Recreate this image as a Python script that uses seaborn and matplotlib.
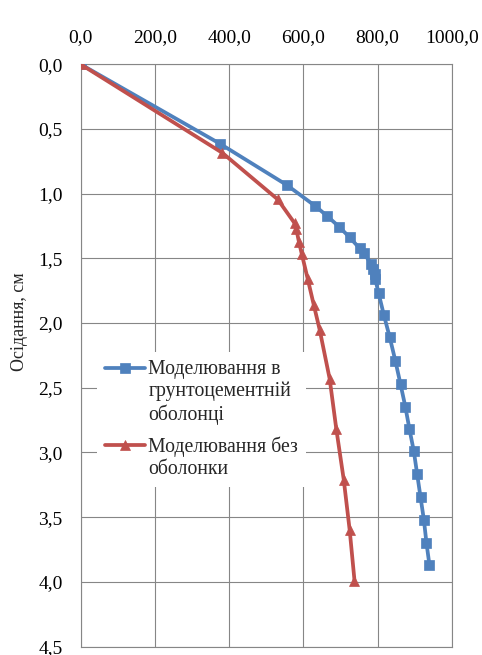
import matplotlib
matplotlib.use("Agg")
import matplotlib.pyplot as plt
from matplotlib.ticker import FuncFormatter, MultipleLocator
import seaborn as sns
import pandas as pd

# ---- data ----
blue_label = "Моделювання в\nгрунтоцементній\nоболонці"
blue_load = [0, 376, 556, 632, 664, 697, 725, 752, 763, 783, 787, 792, 794,
             803, 817, 833, 848, 862, 875, 886, 898, 907, 916, 925, 932, 940]
blue_settle = [0.0, 0.615, 0.934, 1.095, 1.172, 1.257, 1.338, 1.423, 1.462,
               1.54, 1.58, 1.62, 1.66, 1.77, 1.936, 2.11, 2.29, 2.472, 2.646,
               2.818, 2.992, 3.17, 3.346, 3.52, 3.70, 3.87]

red_label = "Моделювання без\nоболонки"
red_load = [0, 382, 531, 577, 581, 588, 596, 612, 628, 644, 671, 689, 709,
            725, 738]
red_settle = [0.0, 0.685, 1.044, 1.23, 1.27, 1.37, 1.467, 1.66, 1.857, 2.05,
              2.43, 2.82, 3.21, 3.60, 3.99]

y_label = "Осідання, см"

# ---- style ----
sns.set_style("white")
plt.rcParams["font.family"] = ["Liberation Serif", "DejaVu Serif"]

BLUE = "#4F81BD"
RED = "#C0504D"
GRID = "#868686"

W, H = 482, 655
fig = plt.figure(figsize=(W / 100, H / 100), dpi=100)
left, right, top, bottom = 80.7, 451.7, 64.3, 646.5
ax = fig.add_axes([left / W, 1 - bottom / H, (right - left) / W, (bottom - top) / H])

df_b = pd.DataFrame({"load": blue_load, "settle": blue_settle})
df_r = pd.DataFrame({"load": red_load, "settle": red_settle})

sns.lineplot(data=df_b, x="load", y="settle", ax=ax, sort=False, estimator=None,
             color=BLUE, lw=2.7, marker="s", markersize=7.5,
             markeredgecolor=BLUE, markeredgewidth=0.5, label=blue_label, zorder=3)
sns.lineplot(data=df_r, x="load", y="settle", ax=ax, sort=False, estimator=None,
             color=RED, lw=2.7, marker="^", markersize=7.5,
             markeredgecolor=RED, markeredgewidth=0.5, label=red_label, zorder=4)

ax.set_xlim(0, 1000)
ax.set_ylim(4.5, 0)
ax.xaxis.set_major_locator(MultipleLocator(200))
ax.yaxis.set_major_locator(MultipleLocator(0.5))
fmt = FuncFormatter(lambda v, p: f"{v:.1f}".replace(".", ","))
ax.xaxis.set_major_formatter(fmt)
ax.yaxis.set_major_formatter(fmt)
ax.xaxis.tick_top()
ax.tick_params(axis="x", length=0, pad=13.2, labelsize=14, colors="black")
ax.tick_params(axis="y", length=0, pad=13, labelsize=14, colors="black")

ax.grid(True, color=GRID, lw=0.8)
ax.set_axisbelow(True)
for s in ax.spines.values():
    s.set_visible(True)
    s.set_color(GRID)
    s.set_linewidth(0.8)

ax.set_xlabel("")
ax.set_ylabel(y_label, fontsize=13)
ax.yaxis.label.set_va("center")
ax.yaxis.set_label_coords((20 - left) / (right - left), (bottom - 322) / (bottom - top))

leg = ax.legend(loc="upper left",
                bbox_to_anchor=((97 - left) / (right - left), (bottom - 352) / (bottom - top)),
                borderaxespad=0, borderpad=0.4, fontsize=14.2, frameon=True,
                fancybox=False, framealpha=1, edgecolor="none", facecolor="white",
                handlelength=2.05, handletextpad=0.15, labelspacing=0.6,
                handleheight=1.0)
for col in leg._legend_handle_box.get_children():
    for item in col.get_children():
        item.align = "top"

fig.savefig("out.png", dpi=100, facecolor="white")
